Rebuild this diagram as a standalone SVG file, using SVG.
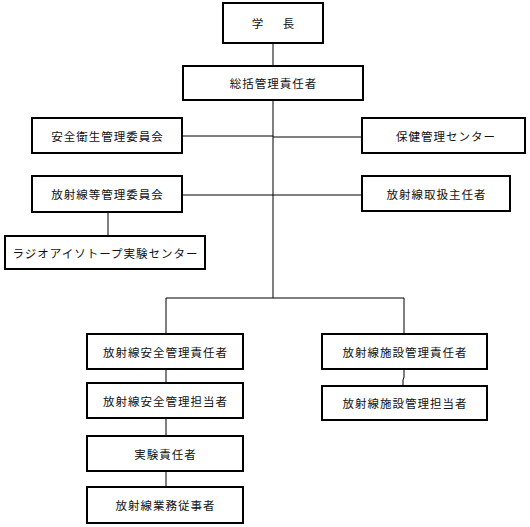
<svg xmlns="http://www.w3.org/2000/svg" width="530" height="527" viewBox="0 0 530 527">
<style>
rect.box{fill:#fff;stroke:#000;stroke-width:2}
text{font-family:"Noto Sans CJK JP","Noto Sans CJK SC",sans-serif;font-size:11.5px;letter-spacing:1px;text-anchor:middle;dominant-baseline:central;fill:#111}
.conn line,.conn polyline{stroke:#000;stroke-width:1;fill:none}
</style>
<rect width="530" height="527" fill="#fff"/>
<g class="conn" id="connectors">
<line x1="273" y1="43" x2="273" y2="66"/>
<line x1="273" y1="100" x2="273" y2="298"/>
<line x1="182" y1="136" x2="273" y2="136"/>
<line x1="273" y1="137" x2="362" y2="137"/>
<line x1="182" y1="195" x2="362" y2="195"/>
<line x1="108" y1="212" x2="108" y2="236"/>
<line x1="166" y1="298" x2="404" y2="298"/>
<line x1="166" y1="298" x2="166" y2="334"/>
<line x1="404" y1="298" x2="404" y2="334"/>
<line x1="166" y1="369" x2="166" y2="383"/>
<line x1="166" y1="418" x2="166" y2="436"/>
<line x1="166" y1="471" x2="166" y2="487"/>
<polyline points="404,369 404,377 403,380 403,386"/>
</g>
<g id="n_gakucho"><rect class="box" x="223" y="3" width="100" height="40"/><text x="275" y="23" style="letter-spacing:4px">学　長</text></g>
<g id="n_sokatsu"><rect class="box" x="183" y="66" width="180" height="34"/><text x="273.5" y="83">総括管理責任者</text></g>
<g id="n_anzen_eisei"><rect class="box" x="32" y="118" width="150" height="35"/><text x="107.5" y="135.5">安全衛生管理委員会</text></g>
<g id="n_hoken"><rect class="box" x="362" y="118" width="163" height="35"/><text x="446" y="135.5">保健管理センター</text></g>
<g id="n_hoshasen_kanri_iinkai"><rect class="box" x="32" y="176" width="150" height="36"/><text x="107.5" y="194">放射線等管理委員会</text></g>
<g id="n_toriatsukai"><rect class="box" x="362" y="176" width="148" height="35"/><text x="436.5" y="193.5">放射線取扱主任者</text></g>
<g id="n_ri_center"><rect class="box" x="5" y="236" width="200" height="33"/><text x="105.5" y="252.5">ラジオアイソトープ実験センター</text></g>
<g id="n_anzen_sekinin"><rect class="box" x="87" y="334" width="156" height="35"/><text x="165.5" y="351.5">放射線安全管理責任者</text></g>
<g id="n_anzen_tanto"><rect class="box" x="87" y="383" width="156" height="35"/><text x="165.5" y="400.5">放射線安全管理担当者</text></g>
<g id="n_jikken"><rect class="box" x="87" y="436" width="156" height="35"/><text x="165.5" y="453.5">実験責任者</text></g>
<g id="n_gyomu"><rect class="box" x="87" y="487" width="156" height="36"/><text x="165.5" y="505">放射線業務従事者</text></g>
<g id="n_shisetsu_sekinin"><rect class="box" x="322" y="334" width="165" height="35"/><text x="405" y="351.5">放射線施設管理責任者</text></g>
<g id="n_shisetsu_tanto"><rect class="box" x="322" y="386" width="165" height="34"/><text x="405" y="403">放射線施設管理担当者</text></g>
</svg>
